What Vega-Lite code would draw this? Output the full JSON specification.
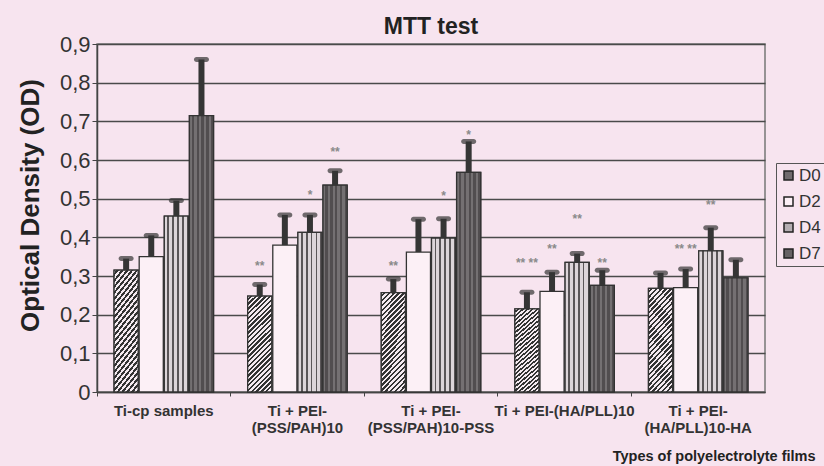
{
  "$schema": "https://vega.github.io/schema/vega-lite/v6.json",
  "width": 668,
  "height": 348,
  "autosize": {"type": "none"},
  "padding": {"left": 97, "top": 44, "right": 59, "bottom": 74},
  "background": "#f7e4ef",
  "config": {
    "font": "Liberation Sans",
    "view": {"stroke": "#777", "strokeWidth": 1.5},
    "axis": {"labelColor": "#333", "titleColor": "#222", "domainColor": "#444", "tickColor": "#444"}
  },
  "title": {"text": "MTT test", "fontSize": 23, "fontWeight": "bold", "color": "#222", "offset": 0, "dy": 6, "anchor": "middle"},
  "datasets": {
    "bars": [
      {"group": "Ti-cp samples", "day": "D0", "od": 0.315, "upper": 0.345},
      {"group": "Ti-cp samples", "day": "D2", "od": 0.35, "upper": 0.405},
      {"group": "Ti-cp samples", "day": "D4", "od": 0.455, "upper": 0.495},
      {"group": "Ti-cp samples", "day": "D7", "od": 0.715, "upper": 0.86},
      {"group": "Ti + PEI-(PSS/PAH)10", "day": "D0", "od": 0.248, "upper": 0.278},
      {"group": "Ti + PEI-(PSS/PAH)10", "day": "D2", "od": 0.38, "upper": 0.458},
      {"group": "Ti + PEI-(PSS/PAH)10", "day": "D4", "od": 0.413, "upper": 0.458},
      {"group": "Ti + PEI-(PSS/PAH)10", "day": "D7", "od": 0.535, "upper": 0.572},
      {"group": "Ti + PEI-(PSS/PAH)10-PSS", "day": "D0", "od": 0.257, "upper": 0.292},
      {"group": "Ti + PEI-(PSS/PAH)10-PSS", "day": "D2", "od": 0.362, "upper": 0.447},
      {"group": "Ti + PEI-(PSS/PAH)10-PSS", "day": "D4", "od": 0.398, "upper": 0.448},
      {"group": "Ti + PEI-(PSS/PAH)10-PSS", "day": "D7", "od": 0.568, "upper": 0.648},
      {"group": "Ti + PEI-(HA/PLL)10", "day": "D0", "od": 0.215, "upper": 0.258},
      {"group": "Ti + PEI-(HA/PLL)10", "day": "D2", "od": 0.26, "upper": 0.31},
      {"group": "Ti + PEI-(HA/PLL)10", "day": "D4", "od": 0.335, "upper": 0.358},
      {"group": "Ti + PEI-(HA/PLL)10", "day": "D7", "od": 0.276, "upper": 0.315},
      {"group": "Ti + PEI-(HA/PLL)10-HA", "day": "D0", "od": 0.268, "upper": 0.308},
      {"group": "Ti + PEI-(HA/PLL)10-HA", "day": "D2", "od": 0.27, "upper": 0.318},
      {"group": "Ti + PEI-(HA/PLL)10-HA", "day": "D4", "od": 0.365, "upper": 0.425},
      {"group": "Ti + PEI-(HA/PLL)10-HA", "day": "D7", "od": 0.295, "upper": 0.342}
    ],
    "stars": [
      {"group": "Ti + PEI-(PSS/PAH)10", "day": "D0", "y": 0.325, "mark": "**"},
      {"group": "Ti + PEI-(PSS/PAH)10", "day": "D4", "y": 0.51, "mark": "*"},
      {"group": "Ti + PEI-(PSS/PAH)10", "day": "D7", "y": 0.62, "mark": "**"},
      {"group": "Ti + PEI-(PSS/PAH)10-PSS", "day": "D0", "y": 0.327, "mark": "**"},
      {"group": "Ti + PEI-(PSS/PAH)10-PSS", "day": "D4", "y": 0.508, "mark": "*"},
      {"group": "Ti + PEI-(PSS/PAH)10-PSS", "day": "D7", "y": 0.665, "mark": "*"},
      {"group": "Ti + PEI-(HA/PLL)10", "day": "D0", "y": 0.333, "mark": "** **"},
      {"group": "Ti + PEI-(HA/PLL)10", "day": "D2", "y": 0.37, "mark": "**"},
      {"group": "Ti + PEI-(HA/PLL)10", "day": "D4", "y": 0.447, "mark": "**"},
      {"group": "Ti + PEI-(HA/PLL)10", "day": "D7", "y": 0.333, "mark": "**"},
      {"group": "Ti + PEI-(HA/PLL)10-HA", "day": "D2", "y": 0.37, "mark": "** **"},
      {"group": "Ti + PEI-(HA/PLL)10-HA", "day": "D4", "y": 0.483, "mark": "**"}
    ]
  },
  "encoding": {
    "x": {
      "field": "group",
      "type": "nominal",
      "sort": null,
      "scale": {"paddingInner": 0, "paddingOuter": 0},
      "axis": {
        "title": "Types of polyelectrolyte films",
        "titleFontSize": 14.5,
        "titleFontWeight": "bold",
        "titleAlign": "right",
        "titleAnchor": "end",
        "titleX": 718,
        "titleY": 68,
        "titleBaseline": "alphabetic",
        "labelAngle": 0,
        "labelFontSize": 15,
        "labelFontWeight": "bold",
        "labelPadding": 7,
        "labelLineHeight": 17,
        "labelOverlap": false,
        "bandPosition": 0,
        "ticks": true,
        "tickSize": 4,
        "domainWidth": 1.5,
        "labelExpr": "datum.label == 'Ti + PEI-(PSS/PAH)10' ? ['Ti + PEI-', '(PSS/PAH)10'] : datum.label == 'Ti + PEI-(PSS/PAH)10-PSS' ? ['Ti + PEI-', '(PSS/PAH)10-PSS'] : datum.label == 'Ti + PEI-(HA/PLL)10-HA' ? ['Ti + PEI-', '(HA/PLL)10-HA'] : datum.label"
      }
    },
    "xOffset": {
      "field": "day",
      "type": "nominal",
      "sort": ["D0", "D2", "D4", "D7"],
      "scale": {"paddingInner": 0.04, "paddingOuter": 0.68}
    }
  },
  "layer": [
    {
      "data": {"name": "bars"},
      "mark": {"type": "bar", "stroke": "#333", "strokeWidth": 1.3},
      "encoding": {
        "y": {
          "field": "od",
          "type": "quantitative",
          "scale": {"domain": [0, 0.9], "nice": false},
          "axis": {"title": "Optical Density (OD)", "titleFontSize": 26, "titleFontWeight": "bold", "titleX": -67, "titleY": 161, "titleAlign": "center", "titleBaseline": "middle", "values": [0, 0.1, 0.2, 0.3, 0.4, 0.5, 0.6, 0.7, 0.8, 0.9], "labelExpr": "datum.value == 0 ? '0' : replace(format(datum.value, '.1f'), '.', ',')", "labelFontSize": 22, "labelOverlap": false, "labelPadding": 2, "tickSize": 5, "domainWidth": 1.5, "grid": true, "gridColor": "#4a4a4a", "gridWidth": 1.6}
        },
        "fill": {
          "field": "day",
          "type": "nominal",
          "sort": ["D0", "D2", "D4", "D7"],
          "scale": {"domain": ["D0", "D2", "D4", "D7"], "range": ["#6f6b6d", "#fcf0f6", "#b4aeb2", "#666264"]},
          "legend": {
            "title": null,
            "orient": "none",
            "legendX": 679,
            "legendY": 119,
            "strokeColor": "#555",
            "padding": 4,
            "labelFontSize": 17,
            "labelColor": "#333",
            "symbolType": "square",
            "symbolSize": 81,
            "symbolStrokeColor": "#222",
            "symbolStrokeWidth": 1.5,
            "rowPadding": 8,
            "labelOffset": 2
          }
        }
      }
    },
    {
      "data": {"name": "bars"},
      "transform": [{"filter": "datum.day == 'D0'"}],
      "mark": {
        "type": "bar",
        "stroke": "#333",
        "strokeWidth": 1.3,
        "fill": {
          "gradient": "linear", "x1": 0, "y1": 0, "x2": 0.294, "y2": 1.176,
          "stops": [
            {"offset": 0, "color": "#f4eaf0"}, {"offset": 0.02, "color": "#f4eaf0"}, {"offset": 0.02, "color": "#333333"},
            {"offset": 0.04, "color": "#333333"}, {"offset": 0.04, "color": "#f4eaf0"}, {"offset": 0.06, "color": "#f4eaf0"}, {"offset": 0.06, "color": "#333333"},
            {"offset": 0.08, "color": "#333333"}, {"offset": 0.08, "color": "#f4eaf0"}, {"offset": 0.1, "color": "#f4eaf0"}, {"offset": 0.1, "color": "#333333"},
            {"offset": 0.12, "color": "#333333"}, {"offset": 0.12, "color": "#f4eaf0"}, {"offset": 0.14, "color": "#f4eaf0"}, {"offset": 0.14, "color": "#333333"},
            {"offset": 0.16, "color": "#333333"}, {"offset": 0.16, "color": "#f4eaf0"}, {"offset": 0.18, "color": "#f4eaf0"}, {"offset": 0.18, "color": "#333333"},
            {"offset": 0.2, "color": "#333333"}, {"offset": 0.2, "color": "#f4eaf0"}, {"offset": 0.22, "color": "#f4eaf0"}, {"offset": 0.22, "color": "#333333"},
            {"offset": 0.24, "color": "#333333"}, {"offset": 0.24, "color": "#f4eaf0"}, {"offset": 0.26, "color": "#f4eaf0"}, {"offset": 0.26, "color": "#333333"},
            {"offset": 0.28, "color": "#333333"}, {"offset": 0.28, "color": "#f4eaf0"}, {"offset": 0.3, "color": "#f4eaf0"}, {"offset": 0.3, "color": "#333333"},
            {"offset": 0.32, "color": "#333333"}, {"offset": 0.32, "color": "#f4eaf0"}, {"offset": 0.34, "color": "#f4eaf0"}, {"offset": 0.34, "color": "#333333"},
            {"offset": 0.36, "color": "#333333"}, {"offset": 0.36, "color": "#f4eaf0"}, {"offset": 0.38, "color": "#f4eaf0"}, {"offset": 0.38, "color": "#333333"},
            {"offset": 0.4, "color": "#333333"}, {"offset": 0.4, "color": "#f4eaf0"}, {"offset": 0.42, "color": "#f4eaf0"}, {"offset": 0.42, "color": "#333333"},
            {"offset": 0.44, "color": "#333333"}, {"offset": 0.44, "color": "#f4eaf0"}, {"offset": 0.46, "color": "#f4eaf0"}, {"offset": 0.46, "color": "#333333"},
            {"offset": 0.48, "color": "#333333"}, {"offset": 0.48, "color": "#f4eaf0"}, {"offset": 0.5, "color": "#f4eaf0"}, {"offset": 0.5, "color": "#333333"},
            {"offset": 0.52, "color": "#333333"}, {"offset": 0.52, "color": "#f4eaf0"}, {"offset": 0.54, "color": "#f4eaf0"}, {"offset": 0.54, "color": "#333333"},
            {"offset": 0.56, "color": "#333333"}, {"offset": 0.56, "color": "#f4eaf0"}, {"offset": 0.58, "color": "#f4eaf0"}, {"offset": 0.58, "color": "#333333"},
            {"offset": 0.6, "color": "#333333"}, {"offset": 0.6, "color": "#f4eaf0"}, {"offset": 0.62, "color": "#f4eaf0"}, {"offset": 0.62, "color": "#333333"},
            {"offset": 0.64, "color": "#333333"}, {"offset": 0.64, "color": "#f4eaf0"}, {"offset": 0.66, "color": "#f4eaf0"}, {"offset": 0.66, "color": "#333333"},
            {"offset": 0.68, "color": "#333333"}, {"offset": 0.68, "color": "#f4eaf0"}, {"offset": 0.7, "color": "#f4eaf0"}, {"offset": 0.7, "color": "#333333"},
            {"offset": 0.72, "color": "#333333"}, {"offset": 0.72, "color": "#f4eaf0"}, {"offset": 0.74, "color": "#f4eaf0"}, {"offset": 0.74, "color": "#333333"},
            {"offset": 0.76, "color": "#333333"}, {"offset": 0.76, "color": "#f4eaf0"}, {"offset": 0.78, "color": "#f4eaf0"}, {"offset": 0.78, "color": "#333333"},
            {"offset": 0.8, "color": "#333333"}, {"offset": 0.8, "color": "#f4eaf0"}, {"offset": 0.82, "color": "#f4eaf0"}, {"offset": 0.82, "color": "#333333"},
            {"offset": 0.84, "color": "#333333"}, {"offset": 0.84, "color": "#f4eaf0"}, {"offset": 0.86, "color": "#f4eaf0"}, {"offset": 0.86, "color": "#333333"},
            {"offset": 0.88, "color": "#333333"}, {"offset": 0.88, "color": "#f4eaf0"}, {"offset": 0.9, "color": "#f4eaf0"}, {"offset": 0.9, "color": "#333333"},
            {"offset": 0.92, "color": "#333333"}, {"offset": 0.92, "color": "#f4eaf0"}, {"offset": 0.94, "color": "#f4eaf0"}, {"offset": 0.94, "color": "#333333"},
            {"offset": 0.96, "color": "#333333"}, {"offset": 0.96, "color": "#f4eaf0"}, {"offset": 0.98, "color": "#f4eaf0"}, {"offset": 0.98, "color": "#333333"},
            {"offset": 1, "color": "#333333"}
          ]
        }
      },
      "encoding": {
        "y": {"field": "od", "type": "quantitative", "axis": {"title": "Optical Density (OD)", "titleFontSize": 26, "titleFontWeight": "bold", "titleX": -67, "titleY": 161, "titleAlign": "center", "titleBaseline": "middle", "values": [0, 0.1, 0.2, 0.3, 0.4, 0.5, 0.6, 0.7, 0.8, 0.9], "labelExpr": "datum.value == 0 ? '0' : replace(format(datum.value, '.1f'), '.', ',')", "labelFontSize": 22, "labelOverlap": false, "labelPadding": 2, "tickSize": 5, "domainWidth": 1.5, "grid": true, "gridColor": "#4a4a4a", "gridWidth": 1.6}}
      }
    },
    {
      "data": {"name": "bars"},
      "transform": [{"filter": "datum.day == 'D4'"}],
      "mark": {
        "type": "bar",
        "stroke": "#333",
        "strokeWidth": 1.3,
        "fill": {
          "gradient": "linear", "x1": 0, "y1": 0, "x2": 1, "y2": 0,
          "stops": [
            {"offset": 0, "color": "#dcd5d9"}, {"offset": 0.13, "color": "#dcd5d9"}, {"offset": 0.13, "color": "#5a5658"},
            {"offset": 0.2, "color": "#5a5658"}, {"offset": 0.2, "color": "#dcd5d9"}, {"offset": 0.33, "color": "#dcd5d9"}, {"offset": 0.33, "color": "#5a5658"},
            {"offset": 0.4, "color": "#5a5658"}, {"offset": 0.4, "color": "#dcd5d9"}, {"offset": 0.53, "color": "#dcd5d9"}, {"offset": 0.53, "color": "#5a5658"},
            {"offset": 0.6, "color": "#5a5658"}, {"offset": 0.6, "color": "#dcd5d9"}, {"offset": 0.73, "color": "#dcd5d9"}, {"offset": 0.73, "color": "#5a5658"},
            {"offset": 0.8, "color": "#5a5658"}, {"offset": 0.8, "color": "#dcd5d9"}, {"offset": 0.93, "color": "#dcd5d9"}, {"offset": 0.93, "color": "#5a5658"},
            {"offset": 1, "color": "#5a5658"}
          ]
        }
      },
      "encoding": {
        "y": {"field": "od", "type": "quantitative", "axis": {"title": "Optical Density (OD)", "titleFontSize": 26, "titleFontWeight": "bold", "titleX": -67, "titleY": 161, "titleAlign": "center", "titleBaseline": "middle", "values": [0, 0.1, 0.2, 0.3, 0.4, 0.5, 0.6, 0.7, 0.8, 0.9], "labelExpr": "datum.value == 0 ? '0' : replace(format(datum.value, '.1f'), '.', ',')", "labelFontSize": 22, "labelOverlap": false, "labelPadding": 2, "tickSize": 5, "domainWidth": 1.5, "grid": true, "gridColor": "#4a4a4a", "gridWidth": 1.6}}
      }
    },
    {
      "data": {"name": "bars"},
      "transform": [{"filter": "datum.day == 'D7'"}],
      "mark": {
        "type": "bar",
        "stroke": "#333",
        "strokeWidth": 1.3,
        "fill": {
          "gradient": "linear", "x1": 0, "y1": 0, "x2": 1, "y2": 0,
          "stops": [
            {"offset": 0, "color": "#747072"}, {"offset": 0.1, "color": "#747072"}, {"offset": 0.1, "color": "#514d4f"},
            {"offset": 0.2, "color": "#514d4f"}, {"offset": 0.2, "color": "#747072"}, {"offset": 0.3, "color": "#747072"}, {"offset": 0.3, "color": "#514d4f"},
            {"offset": 0.4, "color": "#514d4f"}, {"offset": 0.4, "color": "#747072"}, {"offset": 0.5, "color": "#747072"}, {"offset": 0.5, "color": "#514d4f"},
            {"offset": 0.6, "color": "#514d4f"}, {"offset": 0.6, "color": "#747072"}, {"offset": 0.7, "color": "#747072"}, {"offset": 0.7, "color": "#514d4f"},
            {"offset": 0.8, "color": "#514d4f"}, {"offset": 0.8, "color": "#747072"}, {"offset": 0.9, "color": "#747072"}, {"offset": 0.9, "color": "#514d4f"},
            {"offset": 1, "color": "#514d4f"}
          ]
        }
      },
      "encoding": {
        "y": {"field": "od", "type": "quantitative", "axis": {"title": "Optical Density (OD)", "titleFontSize": 26, "titleFontWeight": "bold", "titleX": -67, "titleY": 161, "titleAlign": "center", "titleBaseline": "middle", "values": [0, 0.1, 0.2, 0.3, 0.4, 0.5, 0.6, 0.7, 0.8, 0.9], "labelExpr": "datum.value == 0 ? '0' : replace(format(datum.value, '.1f'), '.', ',')", "labelFontSize": 22, "labelOverlap": false, "labelPadding": 2, "tickSize": 5, "domainWidth": 1.5, "grid": true, "gridColor": "#4a4a4a", "gridWidth": 1.6}}
      }
    },
    {
      "data": {"name": "bars"},
      "mark": {"type": "rule", "color": "#353535", "strokeWidth": 6},
      "encoding": {
        "y": {"field": "od", "type": "quantitative", "axis": {"title": "Optical Density (OD)", "titleFontSize": 26, "titleFontWeight": "bold", "titleX": -67, "titleY": 161, "titleAlign": "center", "titleBaseline": "middle", "values": [0, 0.1, 0.2, 0.3, 0.4, 0.5, 0.6, 0.7, 0.8, 0.9], "labelExpr": "datum.value == 0 ? '0' : replace(format(datum.value, '.1f'), '.', ',')", "labelFontSize": 22, "labelOverlap": false, "labelPadding": 2, "tickSize": 5, "domainWidth": 1.5, "grid": true, "gridColor": "#4a4a4a", "gridWidth": 1.6}},
        "y2": {"field": "upper"}
      }
    },
    {
      "data": {"name": "bars"},
      "mark": {"type": "tick", "color": "#353535", "thickness": 5, "size": 15, "cornerRadius": 2.5},
      "encoding": {
        "y": {"field": "upper", "type": "quantitative", "axis": {"title": "Optical Density (OD)", "titleFontSize": 26, "titleFontWeight": "bold", "titleX": -67, "titleY": 161, "titleAlign": "center", "titleBaseline": "middle", "values": [0, 0.1, 0.2, 0.3, 0.4, 0.5, 0.6, 0.7, 0.8, 0.9], "labelExpr": "datum.value == 0 ? '0' : replace(format(datum.value, '.1f'), '.', ',')", "labelFontSize": 22, "labelOverlap": false, "labelPadding": 2, "tickSize": 5, "domainWidth": 1.5, "grid": true, "gridColor": "#4a4a4a", "gridWidth": 1.6}}
      }
    },
    {
      "data": {"name": "stars"},
      "mark": {"type": "text", "color": "#8a8a8a", "fontSize": 12, "fontWeight": "bold", "baseline": "middle"},
      "encoding": {
        "y": {"field": "y", "type": "quantitative", "axis": {"title": "Optical Density (OD)", "titleFontSize": 26, "titleFontWeight": "bold", "titleX": -67, "titleY": 161, "titleAlign": "center", "titleBaseline": "middle", "values": [0, 0.1, 0.2, 0.3, 0.4, 0.5, 0.6, 0.7, 0.8, 0.9], "labelExpr": "datum.value == 0 ? '0' : replace(format(datum.value, '.1f'), '.', ',')", "labelFontSize": 22, "labelOverlap": false, "labelPadding": 2, "tickSize": 5, "domainWidth": 1.5, "grid": true, "gridColor": "#4a4a4a", "gridWidth": 1.6}},
        "text": {"field": "mark"}
      }
    }
  ]
}
